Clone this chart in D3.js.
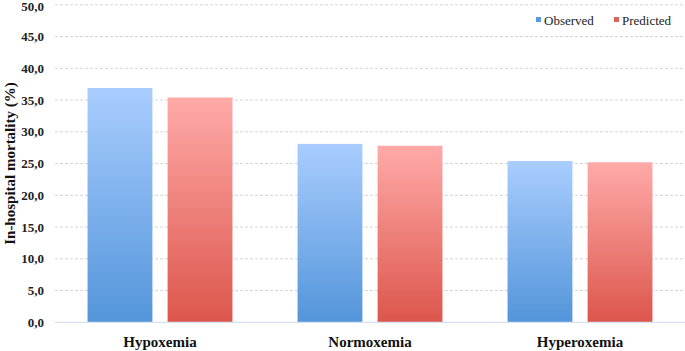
<!DOCTYPE html>
<html lang="en">
<head>
<meta charset="UTF-8">
<title>In-hospital mortality</title>
<script src="https://d3js.org/d3.v7.min.js"></script>
<style>
    body { margin: 0; background: #fff; }
    svg { display: block; }
    .tick-label { font-family: 'Liberation Serif', serif; font-weight: bold; font-size: 13px; fill: #222; }
    .cat-label { font-family: 'Liberation Serif', serif; font-weight: bold; font-size: 15px; fill: #111; }
    .legend text { font-family: 'Liberation Serif', serif; font-size: 13px; fill: #222; }
</style>
</head>
<body>
<svg id="chart" width="685" height="351"></svg>
<script>
    // data
    const categories = ["Hypoxemia", "Normoxemia", "Hyperoxemia"];
    const seriesNames = ["Observed", "Predicted"];
    const observed = [36.9, 28.1, 25.4];
    const predicted = [35.4, 27.8, 25.2];
    const yTicks = [0, 5, 10, 15, 20, 25, 30, 35, 40, 45, 50];

    const svg = d3.select("#chart");
    const plotLeft = 55, plotRight = 685, plotTop = 4.8, plotBottom = 322.3;

    const x = d3.scaleBand().domain(categories).range([plotLeft, plotRight]).paddingInner(0.31).paddingOuter(0.155);
    const xs = d3.scaleBand().domain(seriesNames).range([0, x.bandwidth()]).paddingInner(0.19);
    const y = d3.scaleLinear().domain([0, 50]).range([plotBottom, plotTop]);

    const defs = svg.append("defs");
    const grads = [
        { id: "gObs", top: "#a9cdfe", bot: "#5395da" },
        { id: "gPred", top: "#ffaaa8", bot: "#dc564c" }
    ];
    grads.forEach(g => {
        const lg = defs.append("linearGradient").attr("id", g.id)
            .attr("x1", 0).attr("x2", 0).attr("y1", 0).attr("y2", 1);
        lg.append("stop").attr("offset", "0%").attr("stop-color", g.top);
        lg.append("stop").attr("offset", "100%").attr("stop-color", g.bot);
    });
    const blur = defs.append("filter").attr("id", "soft").attr("x", "-5%").attr("y", "-5%").attr("width", "110%").attr("height", "110%");
    blur.append("feGaussianBlur").attr("stdDeviation", 0.6);

    // gridlines
    svg.append("g").selectAll("line")
        .data(yTicks.filter(d => d > 0))
        .join("line")
        .attr("x1", plotLeft).attr("x2", plotRight)
        .attr("y1", d => y(d)).attr("y2", d => y(d))
        .attr("stroke", "#d4d4d4").attr("stroke-width", 1)
        .attr("stroke-dasharray", "3,2");

    // y labels (top one nudged so it stays inside the frame)
    svg.append("g").selectAll("text")
        .data(yTicks)
        .join("text")
        .attr("class", "tick-label")
        .attr("x", 44).attr("y", d => Math.max(y(d), 6.5))
        .attr("dy", "0.35em")
        .attr("text-anchor", "end")
        .text(d => d.toFixed(1).replace(".", ","));

    // axis title
    svg.append("text")
        .attr("transform", `translate(15, ${(plotTop + plotBottom) / 2}) rotate(-90)`)
        .attr("text-anchor", "middle")
        .style("font-family", "'Liberation Serif', serif")
        .style("font-weight", "bold")
        .style("font-size", "15px")
        .style("fill", "#111")
        .text("In-hospital mortality (%)");

    // bars
    const series = [
        { name: "Observed", values: observed, fill: "url(#gObs)" },
        { name: "Predicted", values: predicted, fill: "url(#gPred)" }
    ];
    series.forEach(s => {
        svg.append("g").selectAll("rect")
            .data(categories)
            .join("rect")
            .attr("x", d => x(d) + xs(s.name))
            .attr("width", xs.bandwidth())
            .attr("y", (d, i) => y(s.values[i]))
            .attr("height", (d, i) => plotBottom - y(s.values[i]))
            .attr("fill", s.fill)
            .attr("filter", "url(#soft)");
    });

    // baseline
    svg.append("line")
        .attr("x1", plotLeft).attr("x2", plotRight)
        .attr("y1", plotBottom).attr("y2", plotBottom)
        .attr("stroke", "#d5e3f0").attr("stroke-width", 1.2);

    // category labels
    svg.append("g").selectAll("text")
        .data(categories)
        .join("text")
        .attr("class", "cat-label")
        .attr("x", d => x(d) + x.bandwidth() / 2)
        .attr("y", 347)
        .attr("text-anchor", "middle")
        .text(d => d);

    // legend
    const legend = svg.append("g").attr("class", "legend");
    const legendX = [536, 614];
    const legendColors = ["#5a9be0", "#e0605a"];
    seriesNames.forEach((n, i) => {
        legend.append("rect")
            .attr("x", legendX[i]).attr("y", 17)
            .attr("width", 5).attr("height", 5)
            .attr("fill", legendColors[i]);
        legend.append("text")
            .attr("x", legendX[i] + 8).attr("y", 24.5)
            .text(n);
    });
</script>
</body>
</html>
